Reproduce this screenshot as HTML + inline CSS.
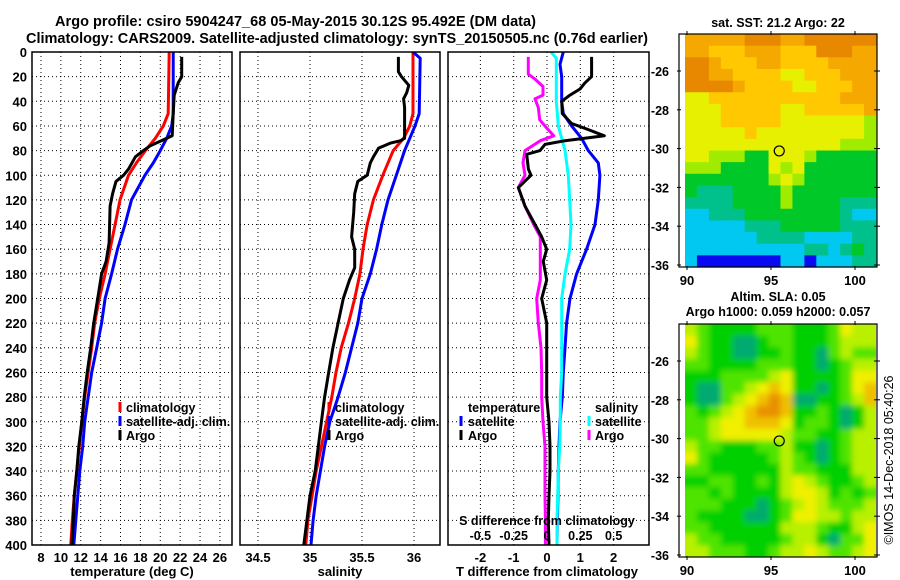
<!DOCTYPE html>
<html><head><meta charset="utf-8"><style>
html,body{margin:0;padding:0;background:#fff;}
svg{display:block;font-family:"Liberation Sans",Arial,sans-serif;font-weight:bold;}
</style></head><body>
<svg id="c" width="900" height="580" viewBox="0 0 900 580" xmlns="http://www.w3.org/2000/svg">
<defs>
<clipPath id="cp1"><rect x="32" y="52" width="200" height="493"/></clipPath>
<clipPath id="cp2"><rect x="240" y="52" width="200" height="493"/></clipPath>
<clipPath id="cp3"><rect x="448" y="52" width="201" height="493"/></clipPath>
<clipPath id="cpm2"><rect x="685" y="324" width="191" height="233"/></clipPath>
<filter id="bl" x="-10%" y="-10%" width="120%" height="120%"><feGaussianBlur stdDeviation="3"/></filter>
</defs>
<text x="55" y="26" font-size="14.5" textLength="481">Argo profile: csiro 5904247_68 05-May-2015 30.12S 95.492E (DM data)</text>
<text x="26" y="43" font-size="14.5" textLength="622">Climatology: CARS2009. Satellite-adjusted climatology: synTS_20150505.nc (0.76d earlier)</text>
<g id="grids"></g>
<g id="series"></g>
<g id="frames"></g>
<g id="labels"></g>
<g id="maps"></g>
<text transform="translate(893,460) rotate(-90)" text-anchor="middle" font-size="12.5" font-weight="normal">©IMOS 14-Dec-2018 05:40:26</text>
</svg>
<script>
// ---- Panel 1: temperature ----
const climTDepth=[0,50,60,70,80,90,100,120,140,160,180,200,220,240,260,280,300,320,340,360,380,400];
const climT=[20.9,20.8,20.3,19.5,18.5,17.6,16.8,15.95,15.45,14.95,14.45,13.87,13.4,13.1,12.75,12.4,12.1,11.85,11.6,11.35,11.15,11.0];
const satT=[21.3,21.3,21.15,20.65,20.0,19.3,18.45,17.1,16.45,15.7,15.1,14.45,14.1,13.6,13.1,12.75,12.4,12.2,11.9,11.7,11.5,11.3];
const argoTDepth=[4,20,25,35,50,68,72,76,80,85,95,100,105,115,125,140,155,170,180,195,200,220,240,260,280,300,320,340,360,380,400];
const argoT=[22.15,22.15,21.8,21.4,21.3,21.2,20.1,19.0,18.3,17.5,16.8,16.3,15.55,15.2,14.95,14.9,14.85,14.55,14.1,13.8,13.7,13.3,13.0,12.65,12.35,12.1,11.8,11.6,11.35,11.25,11.1];
const tTicks=[8,10,12,14,16,18,20,22,24,26];
// ---- Panel 2: salinity ----
const climSDepth=[0,50,60,70,80,90,100,120,140,160,180,200,220,240,260,280,300,320,340,360,380,400];
const climS=[35.99,35.99,35.96,35.90,35.80,35.75,35.70,35.61,35.55,35.51,35.48,35.43,35.37,35.30,35.25,35.21,35.16,35.11,35.06,35.02,34.98,34.96];
const satSDepth=[0,5,50,60,70,80,100,120,140,160,180,200,220,240,260,280,300,320,340,360,380,400];
const satS=[35.99,36.06,36.05,36.01,35.96,35.91,35.83,35.75,35.69,35.64,35.58,35.50,35.46,35.40,35.34,35.27,35.19,35.14,35.10,35.06,35.03,35.01];
const argoSDepth=[4,16,20,27,33,38,45,70,72,74,78,85,90,100,105,115,130,150,160,175,185,200,220,240,260,280,300,320,340,360,380,400];
const argoS=[35.85,35.85,35.88,35.95,35.93,35.90,35.91,35.91,35.87,35.77,35.66,35.61,35.58,35.55,35.46,35.43,35.42,35.40,35.43,35.43,35.38,35.32,35.27,35.22,35.18,35.14,35.11,35.08,35.05,35.0,34.97,34.94];
const sTicks=[34.5,35,35.5,36];
// ---- Panel 3: differences ----
const dTArgoDepth=[4,20,25,30,35,40,50,58,63,68,72,75,80,83,95,100,110,125,140,150,160,170,185,200,220,240,260,280,300,320,340,360,380,400];
const dTArgo=[1.34,1.34,1.14,0.99,0.69,0.44,0.46,0.74,1.24,1.72,0.54,-0.06,-0.21,-0.61,-0.56,-0.48,-0.86,-0.66,-0.36,-0.16,-0.01,-0.11,-0.01,-0.16,-0.01,-0.01,-0.01,-0.01,0.06,0.09,0.09,0.06,0.04,0.06];
const dTSatDepth=[0,10,20,40,50,60,70,80,90,100,120,140,160,180,200,220,240,260,280,300,320,340,360,380,400];
const dTSat=[0.49,0.39,0.44,0.44,0.49,0.74,1.04,1.24,1.54,1.59,1.54,1.44,1.19,0.89,0.69,0.59,0.54,0.49,0.46,0.39,0.36,0.34,0.33,0.31,0.30];
const dSArgoDepth=[4,18,22,28,35,38,45,55,62,68,72,80,90,100,110,125,140,150,170,185,200,220,240,260,280,300,320,340,360,380,400];
const dSArgo=[-0.14,-0.14,-0.09,-0.03,-0.03,-0.09,-0.065,-0.055,0,0.05,-0.05,-0.165,-0.18,-0.165,-0.215,-0.165,-0.10,-0.05,-0.05,-0.05,-0.077,-0.065,-0.045,-0.04,-0.04,-0.03,-0.015,-0.015,-0.015,-0.012,-0.012];
const dSSatDepth=[0,5,20,40,60,70,80,100,120,140,160,180,200,220,240,260,280,300,320,340,360,380,400];
const dSSat=[0.03,0.07,0.07,0.07,0.085,0.11,0.135,0.16,0.17,0.18,0.17,0.135,0.11,0.11,0.11,0.11,0.10,0.10,0.095,0.085,0.08,0.075,0.075];
const dTTicks=[-2,-1,0,1,2];
const dSTicks=[-0.5,-0.25,0,0.25,0.5];
const depthTicks=[0,20,40,60,80,100,120,140,160,180,200,220,240,260,280,300,320,340,360,380,400];
// ---- Maps (heatmap cells, colour class per cell) ----
const sstRows=["7777788877888888","7766677766688877","8876667766667777","8877666655666777","8888766665566677","5566666666666777","5556666655666667","5556666655555554","5555565555555554","5555555555555444","5544433555433333","4443333545333333","3333333454333333","3222333343333333","2222333343333222","1122233333333211","1111122233333222","1111112222111122","1111111111221232","1000000011011122"];
const slaRows=["3211112221112433","4211001221112333","3211001121102322","2211112221101233","1112222341111244","1002234541101245","1002345650011235","2123456651121013","2234455541221013","2234444432211233","3221112231101233","4211111232101233","2211111132211133","1122112134321123","2212111134431212","2221110123432223","2111100124433233","2211111133321134","3221111123310224","3322211233432234"];
const latTicks=[-26,-28,-30,-32,-34,-36];
const lonTicks=[90,95,100];
const argoLon=95.49, argoLat=-30.12;

const NS="http://www.w3.org/2000/svg";
const Y0=52,YS=1.2325;
function yD(d){return Y0+d*YS;}
function xT(v){return 41+(v-8)*9.94;}
function xS(v){return 310+(v-35)*104;}
function xdT(v){return 547+33.3*v;}
function xdS(v){return 547+133.3*v;}
function mk(tag,attrs,parent){const e=document.createElementNS(NS,tag);for(const k in attrs)e.setAttribute(k,attrs[k]);parent.appendChild(e);return e;}
const G=document.getElementById('grids'),S=document.getElementById('series'),F=document.getElementById('frames'),L=document.getElementById('labels'),M=document.getElementById('maps');
const panels=[{x0:32,x1:232,ticks:tTicks,fx:xT,id:'temperature'},{x0:240,x1:440,ticks:sTicks,fx:xS,id:'salinity'},{x0:448,x1:649,ticks:dTTicks,fx:xdT,id:'difference'}];
panels.forEach(p=>{
  depthTicks.forEach(d=>{
    if(d===0||d===400)return;
    const l=mk('line',{x1:p.x0,x2:p.x1,y1:yD(d),y2:yD(d),stroke:'#000','stroke-width':1,'stroke-dasharray':'1 3'},G);
    
    
  });
  p.ticks.forEach(t=>{
    const x=p.fx(t);
    const l=mk('line',{x1:x,x2:x,y1:Y0,y2:545,stroke:'#000','stroke-width':1,'stroke-dasharray':'1 3'},G);
    
    
    const tl=mk('text',{x:x,y:562,'text-anchor':'middle','font-size':13},L);
    tl.textContent=String(t);
    
    
  });
  const fr=mk('rect',{x:p.x0,y:Y0,width:p.x1-p.x0,height:545-Y0,fill:'none',stroke:'#000','stroke-width':1.5},F);
  
  
});
depthTicks.forEach(d=>{
  const t=mk('text',{x:27,y:yD(d)+5,'text-anchor':'end','font-size':13},L);
  t.textContent=String(d);
  
  
});
function line(depths,vals,fx,color,clip,name){
  let dd='';
  depths.forEach((d,i)=>{dd+=(i?'L':'M')+fx(vals[i]).toFixed(1)+' '+yD(d).toFixed(1);});
  const p=mk('path',{d:dd,fill:'none',stroke:color,'stroke-width':3,'clip-path':'url(#'+clip+')','stroke-linejoin':'round'},S);
  
  
}
line(climTDepth,climT,xT,'#ff0000','cp1','temperature-climatology-line');
line(climTDepth,satT,xT,'#0000ff','cp1','temperature-satellite-adj-line');
line(argoTDepth,argoT,xT,'#000','cp1','temperature-argo-line');
line(climSDepth,climS,xS,'#ff0000','cp2','salinity-climatology-line');
line(satSDepth,satS,xS,'#0000ff','cp2','salinity-satellite-adj-line');
line(argoSDepth,argoS,xS,'#000','cp2','salinity-argo-line');
line(dSArgoDepth,dSArgo,xdS,'#ff00ff','cp3','s-diff-argo-line');
line(dTSatDepth,dTSat,xdT,'#0000ff','cp3','t-diff-satellite-line');
line(dSSatDepth,dSSat,xdS,'#00ffff','cp3','s-diff-satellite-line');
line(dTArgoDepth,dTArgo,xdT,'#000','cp3','t-diff-argo-line');

function txt(x,y,s,size,name,anchor){const t=mk('text',{x:x,y:y,'font-size':size,'text-anchor':anchor||'start'},L);t.textContent=s;return t;}
function swatch(x,y,c,name){const r=mk('rect',{x:x-1.5,y:y-10,width:3,height:10,fill:c},L);}
txt(132,576,'temperature (deg C)',13,'temperature-axis-title','middle');
txt(340,576,'salinity',13,'salinity-axis-title','middle');
txt(547,576,'T difference from climatology',13,'t-difference-axis-title','middle');
[['climatology','#ff0000'],['satellite-adj. clim.','#0000ff'],['Argo','#000']].forEach((e,i)=>{
  swatch(120,412+i*14,e[1],'temperature-legend-swatch');
  txt(126,412+i*14,e[0],12.5,'temperature-legend-entry');
  swatch(329,412+i*14,e[1],'salinity-legend-swatch');
  txt(335,412+i*14,e[0],12.5,'salinity-legend-entry');
});
txt(468,412,'temperature',12.5,'t-legend-heading');
txt(595,412,'salinity',12.5,'s-legend-heading');
[['satellite','#0000ff','#00ffff'],['Argo','#000','#ff00ff']].forEach((e,i)=>{
  swatch(461,426+i*14,e[1],'t-legend-swatch');
  txt(468,426+i*14,e[0],12.5,'t-legend-entry');
  swatch(589,426+i*14,e[2],'s-legend-swatch');
  txt(595,426+i*14,e[0],12.5,'s-legend-entry');
});
txt(547,525,'S difference from climatology',12.5,'s-difference-axis-title','middle');
dSTicks.forEach(t=>{txt(xdS(t),540,String(t),12.5,'s-diff-tick-label','middle');});

// ---- maps ----
const sstPal=['#0a0af0','#00c8f0','#00c08c','#00c828','#a0ec00','#e6f000','#ffc800','#f5a800','#e88800'];
const slaPal=['#00aa70','#00d000','#50e400','#b8f000','#f0f000','#f0c000','#e89000'];
function drawMap(rows,pal,x0,y0,w,h,blur,name){
  const g=mk('g',blur?{'clip-path':'url(#cpm2)'}:{},M);
  const gi=mk('g',blur?{filter:'url(#bl)'}:{},g);
  const nr=rows.length,nc=rows[0].length,cw=w/nc,ch=h/nr;
  rows.forEach((r,i)=>{for(let j=0;j<nc;j++){
    const c=mk('rect',{x:(x0+j*cw+(blur&&j===0?-8:0)).toFixed(2),y:(y0+i*ch+(blur&&i===0?-8:0)).toFixed(2),width:(cw+0.6+(blur&&(j===0||j===nc-1)?8:0)).toFixed(2),height:(ch+0.6+(blur&&(i===0||i===nr-1)?8:0)).toFixed(2),fill:pal[+r[j]]},gi);
    
    
  }});
}
drawMap(sstRows,sstPal,685,34,191,233,false,'sst-map');
drawMap(slaRows,slaPal,685,324,191,233,true,'sla-map');
function lonX(l){return 687+(l-90)*16.8;}
[[34,267,71,'sst'],[324,557,361,'sla']].forEach(m=>{
  const fr=mk('rect',{x:679,y:m[0],width:198,height:m[1]-m[0],fill:'none',stroke:'#000','stroke-width':1.2},M);
  
  
  latTicks.forEach(lt=>{
    const y=m[2]+(-26-lt)*19.4;
    mk('line',{x1:677,x2:681,y1:y,y2:y,stroke:'#000'},M);
    mk('line',{x1:874,x2:880,y1:y,y2:y,stroke:'#000'},M);
    txt(669,y+5,String(lt),12.5,m[3]+'-lat-tick-label','end');
  });
  lonTicks.forEach(ln=>{
    const x=lonX(ln);
    mk('line',{x1:x,x2:x,y1:m[0]-3,y2:m[0]+1,stroke:'#000'},M);
    mk('line',{x1:x,x2:x,y1:m[1]-1,y2:m[1]+3,stroke:'#000'},M);
    txt(x,m[1]+18,String(ln),13,m[3]+'-lon-tick-label','middle');
  });
  const c=mk('circle',{cx:lonX(argoLon),cy:m[2]+(-26-argoLat)*19.4,r:5,fill:'none',stroke:'#000','stroke-width':1.2},M);
  
  
});
txt(778,27,'sat. SST: 21.2 Argo: 22',12.5,'sst-map-title','middle');
txt(778,301,'Altim. SLA: 0.05',12.5,'sla-map-title','middle');
txt(778,316,'Argo h1000: 0.059 h2000: 0.057',12.5,'sla-map-subtitle','middle');
</script>
</body></html>
